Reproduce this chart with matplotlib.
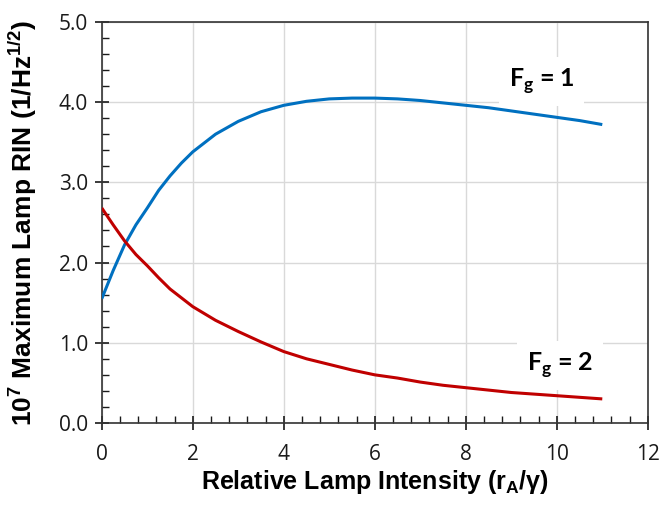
import matplotlib
matplotlib.use('Agg')
import matplotlib.pyplot as plt
from matplotlib.ticker import MultipleLocator, FormatStrFormatter

plt.rcParams['mathtext.fontset'] = 'custom'
plt.rcParams['mathtext.rm'] = 'Liberation Sans:bold'
plt.rcParams['mathtext.bf'] = 'Liberation Sans:bold'
plt.rcParams['mathtext.sf'] = 'Lato:bold'
plt.rcParams['mathtext.default'] = 'bf'

# values
intensity = [0, 0.25, 0.5, 0.75, 1, 1.25, 1.5, 1.75, 2, 2.5, 3, 3.5, 4, 4.5,
             5, 5.5, 6, 6.5, 7, 7.5, 8, 8.5, 9, 9.5, 10, 10.5, 11]
rin_fg1 = [1.55, 1.90, 2.22, 2.47, 2.68, 2.90, 3.08, 3.24, 3.38, 3.60, 3.76,
           3.88, 3.96, 4.01, 4.04, 4.05, 4.05, 4.04, 4.02, 3.99, 3.96, 3.93,
           3.89, 3.85, 3.81, 3.77, 3.72]
rin_fg2 = [2.68, 2.47, 2.27, 2.10, 1.96, 1.81, 1.67, 1.56, 1.45, 1.28, 1.14,
           1.01, 0.89, 0.80, 0.73, 0.66, 0.60, 0.56, 0.51, 0.47, 0.44, 0.41,
           0.38, 0.36, 0.34, 0.32, 0.30]

fig = plt.figure(figsize=(6.61, 5.09), dpi=100)
ax = fig.add_axes([0.154, 0.169, 0.826, 0.788])

ax.plot(intensity, rin_fg1, color='#0070C0', lw=2.2, solid_capstyle='butt', zorder=4)
ax.plot(intensity, rin_fg2, color='#C00000', lw=2.2, solid_capstyle='butt', zorder=4)

ax.set_xlim(0, 12)
ax.set_ylim(0, 5)
ax.xaxis.set_major_locator(MultipleLocator(2))
ax.xaxis.set_minor_locator(MultipleLocator(0.4))
ax.yaxis.set_major_locator(MultipleLocator(1))
ax.yaxis.set_minor_locator(MultipleLocator(0.2))
ax.yaxis.set_major_formatter(FormatStrFormatter('%.1f'))
ax.grid(True, which='major', color='#d9d9d9', lw=1.0)
ax.set_axisbelow(True)

ax.tick_params(which='major', direction='inout', length=10, width=1.2,
               labelsize=15, colors='#1a1a1a', pad=5)
ax.tick_params(axis='x', which='major', pad=10)
ax.tick_params(which='minor', direction='in', length=5, width=1.0,
               colors='#1a1a1a')
for lab in ax.get_xticklabels() + ax.get_yticklabels():
    lab.set_fontfamily('Open Sans')
for s in ax.spines.values():
    s.set_color('#333333')
    s.set_linewidth(1.2)

ax.set_xlabel(r'Relative Lamp Intensity (r$_\mathbf{A}$/$\mathbf{\gamma}$)',
              fontsize=18, fontweight='bold', family='Liberation Sans', labelpad=2)
ax.set_ylabel(r'10$^\mathbf{7}$ Maximum Lamp RIN (1/Hz$^\mathbf{1/2}$)',
              fontsize=19, fontweight='bold', family='Liberation Sans', labelpad=14)

box = dict(facecolor='white', edgecolor='none', pad=7)
ax.text(9.67, 4.26, r'F$_\mathsf{g}$ = 1', fontsize=18, fontweight='bold',
        family='Lato', ha='center', va='center', bbox=box, zorder=3)
ax.text(10.07, 0.72, r'F$_\mathsf{g}$ = 2', fontsize=18, fontweight='bold',
        family='Lato', ha='center', va='center', bbox=box, zorder=3)

fig.savefig('out.png', dpi=100)
